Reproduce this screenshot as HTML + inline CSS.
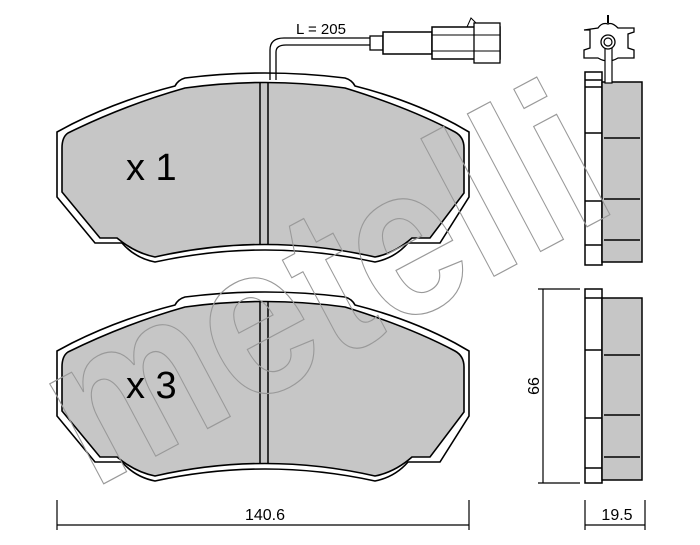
<!DOCTYPE html>
<html><head><style>body{margin:0;background:#fff}svg{display:block}</style></head><body>
<svg width="700" height="545" viewBox="0 0 700 545" xmlns="http://www.w3.org/2000/svg" font-family="Liberation Sans, sans-serif">
<defs>
<g id="pad">
<path d="M57,132 L57,197 L95,243 L122,243 Q135,258 155,262 Q265,238 375,262 Q395,258 408,243 L440,243 L469,197 L469,132 L455,124 Q410,100 355,86 Q352,80 345,78 Q265,68 185,78 Q178,80 175,86 Q120,100 72,124 Z" fill="#fff" stroke="#000" stroke-width="1.6"/>
<path d="M68,133 Q62,137 62,148 L62,192 L100,238 L117,238 Q135,253 155,257 Q265,232 375,257 Q395,253 412,238 L430,238 L464,193 L464,148 Q464,137 455,132 Q410,108 345,88 Q265,77 185,88 Q125,105 68,133 Z" fill="#c6c6c6" stroke="#000" stroke-width="1.6"/>
<line x1="260" y1="83" x2="260" y2="244" stroke="#000" stroke-width="1.5"/>
<line x1="268" y1="83" x2="268" y2="244" stroke="#000" stroke-width="1.5"/>
</g>
</defs>
<use href="#pad"/>
<use href="#pad" transform="translate(0,219)"/>
<!-- wire -->
<path d="M270,80 L270,50 Q270,38 284,38 L370,38" fill="none" stroke="#000" stroke-width="1.3"/>
<path d="M276,80 L276,52 Q276,45 286,45 L370,45" fill="none" stroke="#000" stroke-width="1.3"/>
<rect x="370" y="36" width="13" height="14" fill="#fff" stroke="#000" stroke-width="1.3"/>
<rect x="383" y="32" width="49" height="22" fill="#fff" stroke="#000" stroke-width="1.5"/>
<rect x="432" y="27" width="68" height="32" fill="#fff" stroke="#000" stroke-width="1.5"/>
<rect x="474" y="23" width="26" height="40" fill="#fff" stroke="#000" stroke-width="1.3"/>
<line x1="432" y1="35" x2="500" y2="35" stroke="#000"/><line x1="432" y1="51" x2="500" y2="51" stroke="#000"/>
<path d="M467,27 L471,18 L476,23" fill="none" stroke="#000"/>
<text x="296" y="34" font-size="15">L = 205</text>
<!-- side top -->
<rect x="585" y="72" width="17" height="193" fill="#fff" stroke="#000" stroke-width="1.5"/>
<rect x="602" y="82" width="40" height="180" fill="#c6c6c6" stroke="#000" stroke-width="1.5"/>
<g stroke="#000" stroke-width="1.5">
<line x1="585" y1="80" x2="602" y2="80"/><line x1="585" y1="87" x2="602" y2="87"/><line x1="585" y1="133" x2="602" y2="133"/><line x1="585" y1="201" x2="602" y2="201"/><line x1="585" y1="245" x2="602" y2="245"/>
<line x1="604" y1="138" x2="640" y2="138"/><line x1="604" y1="199" x2="640" y2="199"/><line x1="604" y1="240" x2="640" y2="240"/>
</g>
<path d="M584,30 L590,30 L590,48 L584,50 L584,58 L598,58 Q608,64 618,58 L634,58 L634,50 L628,48 L628,34 L634,32 L634,28 L618,28 Q612,22 608,24 Q602,22 598,28 Z" fill="#fff" stroke="#000" stroke-width="1.3"/>
<line x1="608" y1="15" x2="608" y2="23" stroke="#000" stroke-width="2"/>
<rect x="605" y="43" width="7" height="40" fill="#fff" stroke="#000" stroke-width="1.2"/>
<circle cx="608" cy="42" r="7" fill="#fff" stroke="#000" stroke-width="1.3"/>
<circle cx="608" cy="42" r="4" fill="#fff" stroke="#000" stroke-width="1.2"/>
<!-- side bottom -->
<rect x="585" y="289" width="17" height="194" fill="#fff" stroke="#000" stroke-width="1.5"/>
<rect x="602" y="298" width="40" height="182" fill="#c6c6c6" stroke="#000" stroke-width="1.5"/>
<g stroke="#000" stroke-width="1.5">
<line x1="585" y1="298" x2="602" y2="298"/><line x1="585" y1="350" x2="602" y2="350"/><line x1="585" y1="418" x2="602" y2="418"/><line x1="585" y1="468" x2="602" y2="468"/>
<line x1="604" y1="355" x2="640" y2="355"/><line x1="604" y1="415" x2="640" y2="415"/><line x1="604" y1="457" x2="640" y2="457"/>
</g>
<!-- watermark -->
<text x="0" y="0" font-size="215" font-weight="bold" fill="none" stroke="#999" stroke-width="1.2" transform="translate(92,490) rotate(-28)" textLength="600" lengthAdjust="spacingAndGlyphs">metelli</text>
<!-- labels -->
<text x="126" y="180" font-size="38">x 1</text>
<text x="126" y="398" font-size="38">x 3</text>
<!-- dims -->
<g stroke="#000" stroke-width="1.2">
<line x1="57" y1="525" x2="469" y2="525"/><line x1="57" y1="500" x2="57" y2="530"/><line x1="469" y1="500" x2="469" y2="530"/>
<line x1="585" y1="525" x2="645" y2="525"/><line x1="585" y1="500" x2="585" y2="530"/><line x1="645" y1="500" x2="645" y2="530"/>
<line x1="543" y1="289" x2="543" y2="483"/><line x1="538" y1="289" x2="580" y2="289"/><line x1="538" y1="483" x2="580" y2="483"/>
</g>
<text x="265" y="520" font-size="16" text-anchor="middle">140.6</text>
<text x="617" y="520" font-size="16" text-anchor="middle">19.5</text>
<text x="0" y="0" font-size="16" text-anchor="middle" transform="translate(539,386) rotate(-90)">66</text>
</svg>
</body></html>
